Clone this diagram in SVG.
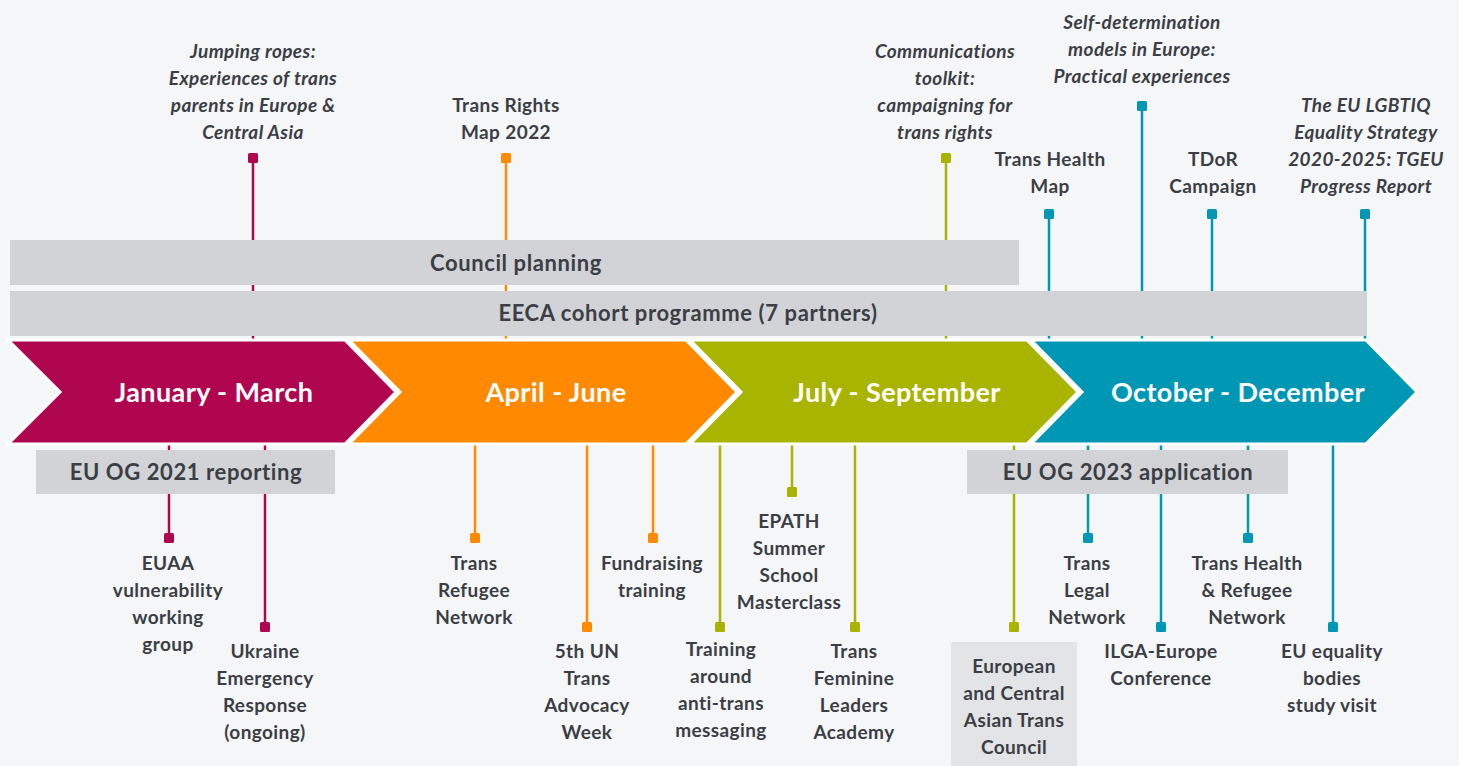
<svg xmlns="http://www.w3.org/2000/svg" width="1459" height="766" viewBox="0 0 1459 766">
<style>
.t{font-family:Lato,"Open Sans","Liberation Sans",sans-serif;font-weight:700;font-size:19px;letter-spacing:0.4px;fill:#3b3e44;text-anchor:middle}
.i{font-style:italic}
.bt{font-family:Lato,"Open Sans","Liberation Sans",sans-serif;font-weight:700;font-size:22px;letter-spacing:0.6px;fill:#3b3e44;text-anchor:middle}
.ct{font-family:Lato,"Open Sans","Liberation Sans",sans-serif;font-weight:700;font-size:27px;letter-spacing:0.4px;fill:#ffffff;text-anchor:middle}
.bar{fill:#d1d3d6}
.ln{stroke-width:2.5;fill:none}
.m{stroke:#b0064f}.o{stroke:#ff8a00}.g{stroke:#a9b400}.b{stroke:#0097b4}
.fm{fill:#b0064f}.fo{fill:#ff8a00}.fg{fill:#a9b400}.fb{fill:#0097b4}
.chev{stroke:#ffffff;stroke-width:3;stroke-linejoin:miter}
</style>
<rect x="0" y="0" width="1459" height="766" fill="#f5f6f8"/>

<g id="connectors">
  <line class="ln m" x1="253" y1="158" x2="253" y2="341"/>
  <line class="ln o" x1="506" y1="158" x2="506" y2="341"/>
  <line class="ln g" x1="946" y1="158" x2="946" y2="341"/>
  <line class="ln b" x1="1049" y1="214" x2="1049" y2="341"/>
  <line class="ln b" x1="1142" y1="106" x2="1142" y2="341"/>
  <line class="ln b" x1="1212" y1="214" x2="1212" y2="341"/>
  <line class="ln b" x1="1365" y1="214" x2="1365" y2="341"/>

  <line class="ln m" x1="169" y1="443" x2="169" y2="538"/>
  <line class="ln m" x1="265" y1="443" x2="265" y2="627"/>
  <line class="ln o" x1="475" y1="443" x2="475" y2="538"/>
  <line class="ln o" x1="587" y1="443" x2="587" y2="627"/>
  <line class="ln o" x1="653" y1="443" x2="653" y2="538"/>
  <line class="ln g" x1="720" y1="443" x2="720" y2="627"/>
  <line class="ln g" x1="792" y1="443" x2="792" y2="492"/>
  <line class="ln g" x1="855" y1="443" x2="855" y2="627"/>
  <line class="ln g" x1="1014" y1="443" x2="1014" y2="627"/>
  <line class="ln b" x1="1088" y1="443" x2="1088" y2="538"/>
  <line class="ln b" x1="1161" y1="443" x2="1161" y2="627"/>
  <line class="ln b" x1="1248" y1="443" x2="1248" y2="538"/>
  <line class="ln b" x1="1333" y1="443" x2="1333" y2="627"/>
</g>

<g id="bar-council">
  <rect class="bar" x="10" y="240" width="1009" height="45"/>
  <text class="bt" x="516" y="271">Council planning</text>
</g>
<g id="bar-eeca">
  <rect class="bar" x="10" y="291" width="1356" height="45"/>
  <text class="bt" x="688" y="321">EECA cohort programme (7 partners)</text>
</g>
<g id="bar-euog2021">
  <rect class="bar" x="36" y="450" width="299" height="44"/>
  <text class="bt" x="186" y="480">EU OG 2021 reporting</text>
</g>
<g id="bar-euog2023">
  <rect class="bar" x="967" y="450" width="321" height="44"/>
  <text class="bt" x="1128" y="480">EU OG 2023 application</text>
</g>

<g id="q1">
  <polygon class="chev" fill="#b0064f" points="8,340 345,340 396,392 345,444 8,444 60,392"/>
  <text class="ct" x="214" y="402">January - March</text>
</g>
<g id="q2">
  <polygon class="chev" fill="#ff8a00" points="349,340 686,340 737,392 686,444 349,444 400,392"/>
  <text class="ct" x="556" y="402">April - June</text>
</g>
<g id="q3">
  <polygon class="chev" fill="#a9b400" points="690,340 1027,340 1078,392 1027,444 690,444 741,392"/>
  <text class="ct" x="897" y="402">July - September</text>
</g>
<g id="q4">
  <polygon class="chev" fill="#0097b4" points="1031,340 1366,340 1417,392 1366,444 1031,444 1082,392"/>
  <text class="ct" x="1238" y="402">October - December</text>
</g>

<g id="n-jumping">
  <rect class="fm" x="248" y="153" width="10" height="10" rx="1.5"/>
  <text class="t i" x="253" y="58">Jumping ropes:</text>
  <text class="t i" x="253" y="85">Experiences of trans</text>
  <text class="t i" x="253" y="112">parents in Europe &amp;</text>
  <text class="t i" x="253" y="139">Central Asia</text>
</g>
<g id="n-rightsmap">
  <rect class="fo" x="501" y="153" width="10" height="10" rx="1.5"/>
  <text class="t" x="506" y="112">Trans Rights</text>
  <text class="t" x="506" y="139">Map 2022</text>
</g>
<g id="n-toolkit">
  <rect class="fg" x="941" y="153" width="10" height="10" rx="1.5"/>
  <text class="t i" x="945" y="58">Communications</text>
  <text class="t i" x="945" y="85">toolkit:</text>
  <text class="t i" x="945" y="112">campaigning for</text>
  <text class="t i" x="945" y="139">trans rights</text>
</g>
<g id="n-healthmap">
  <rect class="fb" x="1044" y="209" width="10" height="10" rx="1.5"/>
  <text class="t" x="1050" y="166">Trans Health</text>
  <text class="t" x="1050" y="193">Map</text>
</g>
<g id="n-selfdet">
  <rect class="fb" x="1137" y="101" width="10" height="10" rx="1.5"/>
  <text class="t i" x="1142" y="29">Self-determination</text>
  <text class="t i" x="1142" y="56">models in Europe:</text>
  <text class="t i" x="1142" y="83">Practical experiences</text>
</g>
<g id="n-tdor">
  <rect class="fb" x="1207" y="209" width="10" height="10" rx="1.5"/>
  <text class="t" x="1213" y="166">TDoR</text>
  <text class="t" x="1213" y="193">Campaign</text>
</g>
<g id="n-strategy">
  <rect class="fb" x="1360" y="209" width="10" height="10" rx="1.5"/>
  <text class="t i" x="1366" y="112">The EU LGBTIQ</text>
  <text class="t i" x="1366" y="139">Equality Strategy</text>
  <text class="t i" x="1366" y="166">2020-2025: TGEU</text>
  <text class="t i" x="1366" y="193">Progress Report</text>
</g>

<g id="n-euaa">
  <rect class="fm" x="164" y="533" width="10" height="10" rx="1.5"/>
  <text class="t" x="168" y="570">EUAA</text>
  <text class="t" x="168" y="597">vulnerability</text>
  <text class="t" x="168" y="624">working</text>
  <text class="t" x="168" y="651">group</text>
</g>
<g id="n-ukraine">
  <rect class="fm" x="260" y="622" width="10" height="10" rx="1.5"/>
  <text class="t" x="265" y="658">Ukraine</text>
  <text class="t" x="265" y="685">Emergency</text>
  <text class="t" x="265" y="712">Response</text>
  <text class="t" x="265" y="739">(ongoing)</text>
</g>
<g id="n-refugee">
  <rect class="fo" x="470" y="533" width="10" height="10" rx="1.5"/>
  <text class="t" x="474" y="570">Trans</text>
  <text class="t" x="474" y="597">Refugee</text>
  <text class="t" x="474" y="624">Network</text>
</g>
<g id="n-un">
  <rect class="fo" x="582" y="622" width="10" height="10" rx="1.5"/>
  <text class="t" x="587" y="658">5th UN</text>
  <text class="t" x="587" y="685">Trans</text>
  <text class="t" x="587" y="712">Advocacy</text>
  <text class="t" x="587" y="739">Week</text>
</g>
<g id="n-fundraising">
  <rect class="fo" x="648" y="533" width="10" height="10" rx="1.5"/>
  <text class="t" x="652" y="570">Fundraising</text>
  <text class="t" x="652" y="597">training</text>
</g>
<g id="n-antitrans">
  <rect class="fg" x="715" y="622" width="10" height="10" rx="1.5"/>
  <text class="t" x="721" y="656">Training</text>
  <text class="t" x="721" y="683">around</text>
  <text class="t" x="721" y="710">anti-trans</text>
  <text class="t" x="721" y="737">messaging</text>
</g>
<g id="n-epath">
  <rect class="fg" x="787" y="487" width="10" height="10" rx="1.5"/>
  <text class="t" x="789" y="528">EPATH</text>
  <text class="t" x="789" y="555">Summer</text>
  <text class="t" x="789" y="582">School</text>
  <text class="t" x="789" y="609">Masterclass</text>
</g>
<g id="n-feminine">
  <rect class="fg" x="850" y="622" width="10" height="10" rx="1.5"/>
  <text class="t" x="854" y="658">Trans</text>
  <text class="t" x="854" y="685">Feminine</text>
  <text class="t" x="854" y="712">Leaders</text>
  <text class="t" x="854" y="739">Academy</text>
</g>
<g id="n-council">
  <rect class="fg" x="1009" y="622" width="10" height="10" rx="1.5"/>
  <rect x="951" y="642" width="126" height="124" fill="#e3e4e6"/>
  <text class="t" x="1014" y="673">European</text>
  <text class="t" x="1014" y="700">and Central</text>
  <text class="t" x="1014" y="727">Asian Trans</text>
  <text class="t" x="1014" y="754">Council</text>
</g>
<g id="n-legal">
  <rect class="fb" x="1083" y="533" width="10" height="10" rx="1.5"/>
  <text class="t" x="1087" y="570">Trans</text>
  <text class="t" x="1087" y="597">Legal</text>
  <text class="t" x="1087" y="624">Network</text>
</g>
<g id="n-ilga">
  <rect class="fb" x="1156" y="622" width="10" height="10" rx="1.5"/>
  <text class="t" x="1161" y="658">ILGA-Europe</text>
  <text class="t" x="1161" y="685">Conference</text>
</g>
<g id="n-healthrefugee">
  <rect class="fb" x="1243" y="533" width="10" height="10" rx="1.5"/>
  <text class="t" x="1247" y="570">Trans Health</text>
  <text class="t" x="1247" y="597">&amp; Refugee</text>
  <text class="t" x="1247" y="624">Network</text>
</g>
<g id="n-equality">
  <rect class="fb" x="1328" y="622" width="10" height="10" rx="1.5"/>
  <text class="t" x="1332" y="658">EU equality</text>
  <text class="t" x="1332" y="685">bodies</text>
  <text class="t" x="1332" y="712">study visit</text>
</g>
</svg>
